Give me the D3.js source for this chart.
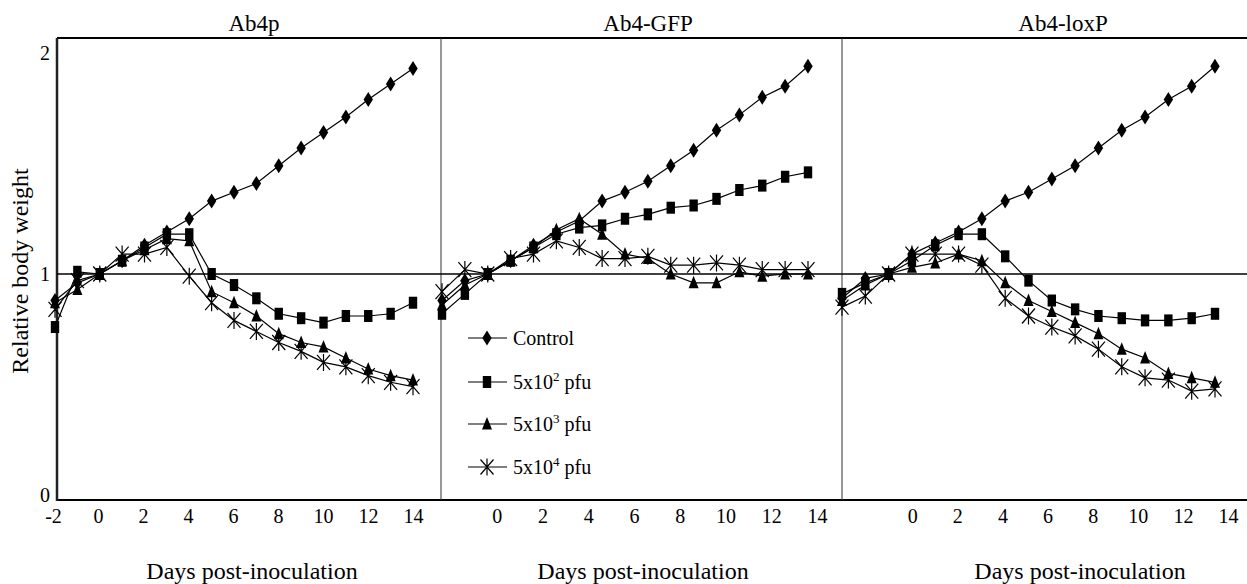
<!DOCTYPE html>
<html>
<head>
<meta charset="utf-8">
<script src="https://cdn.jsdelivr.net/npm/d3@7"></script>
<style>
  body { margin: 0; background: #fff; }
  svg text { font-family: "Liberation Serif", "Times New Roman", serif; fill: #000; }
</style>
</head>
<body>
<div id="chart"></div>
<script>
const days = [-2, -1, 0, 1, 2, 3, 4, 5, 6, 7, 8, 9, 10, 11, 12, 13, 14];
const tickDaysFirst = [-2, 0, 2, 4, 6, 8, 10, 12, 14];
const tickDaysOther = [0, 2, 4, 6, 8, 10, 12, 14];
const yTicks = [0, 1, 2];
const panelTitles = ["Ab4p", "Ab4-GFP", "Ab4-loxP"];
const seriesNames = ["Control", "5x10|2| pfu", "5x10|3| pfu", "5x10|4| pfu"];

// Ab4p
const ab4pControl = [0.88, 0.96, 1.00, 1.06, 1.13, 1.19, 1.25, 1.33, 1.37, 1.41, 1.49, 1.57, 1.64, 1.71, 1.79, 1.86, 1.93];
const ab4p5e2 = [0.76, 1.01, 1.00, 1.06, 1.12, 1.18, 1.18, 1.00, 0.95, 0.89, 0.82, 0.80, 0.78, 0.81, 0.81, 0.82, 0.87];
const ab4p5e3 = [0.87, 0.93, 1.00, 1.06, 1.11, 1.16, 1.15, 0.92, 0.87, 0.81, 0.73, 0.69, 0.67, 0.62, 0.57, 0.54, 0.52];
const ab4p5e4 = [0.84, 0.97, 1.00, 1.09, 1.09, 1.12, 0.99, 0.87, 0.79, 0.74, 0.69, 0.65, 0.60, 0.58, 0.54, 0.51, 0.49];
// Ab4-GFP
const gfpControl = [0.88, 0.97, 1.00, 1.06, 1.13, 1.19, 1.24, 1.33, 1.37, 1.42, 1.49, 1.56, 1.65, 1.72, 1.80, 1.85, 1.94];
const gfp5e2 = [0.82, 0.91, 1.00, 1.06, 1.12, 1.18, 1.21, 1.22, 1.25, 1.27, 1.30, 1.31, 1.34, 1.38, 1.40, 1.44, 1.46];
const gfp5e3 = [0.86, 0.95, 1.00, 1.06, 1.12, 1.20, 1.25, 1.18, 1.09, 1.07, 1.00, 0.96, 0.96, 1.01, 0.99, 1.00, 1.00];
const gfp5e4 = [0.92, 1.02, 1.00, 1.07, 1.09, 1.15, 1.12, 1.07, 1.07, 1.08, 1.04, 1.04, 1.05, 1.04, 1.02, 1.02, 1.02];
// Ab4-loxP
const loxControl = [0.89, 0.98, 1.00, 1.09, 1.14, 1.19, 1.25, 1.33, 1.37, 1.43, 1.49, 1.57, 1.65, 1.71, 1.79, 1.85, 1.94];
const lox5e2 = [0.91, 0.96, 1.00, 1.06, 1.13, 1.18, 1.18, 1.08, 0.97, 0.88, 0.84, 0.81, 0.80, 0.79, 0.79, 0.80, 0.82];
const lox5e3 = [0.88, 0.95, 1.00, 1.03, 1.05, 1.09, 1.06, 0.96, 0.88, 0.83, 0.78, 0.73, 0.66, 0.62, 0.55, 0.53, 0.51];
const lox5e4 = [0.85, 0.90, 1.00, 1.09, 1.09, 1.09, 1.04, 0.89, 0.81, 0.76, 0.72, 0.66, 0.58, 0.53, 0.52, 0.47, 0.48];

const W = 1247, H = 584;
const frame = { left: 57, top: 38, bottom: 500, right: 1247 };
const dividers = [441, 842];

const panels = [
  { title: panelTitles[0], series: [ab4pControl, ab4p5e2, ab4p5e3, ab4p5e4], dataRange: [55, 413], tickRange: [53, 413], ticks: tickDaysFirst, titleX: 254, labelX: 252 },
  { title: panelTitles[1], series: [gfpControl, gfp5e2, gfp5e3, gfp5e4], dataRange: [442, 808], tickRange: [451, 817], ticks: tickDaysOther, titleX: 648, labelX: 643 },
  { title: panelTitles[2], series: [loxControl, lox5e2, lox5e3, lox5e4], dataRange: [842, 1215], tickRange: [867, 1228], ticks: tickDaysOther, titleX: 1063, labelX: 1080 }
];

const y = d3.scaleLinear().domain([0, 2]).range([495, 53]);

const svg = d3.select('#chart').append('svg')
    .attr('width', W)
    .attr('height', H);

// marker shapes
const markers = [
  g => g.append('path').attr('d', 'M0,-7.5L4.7,0L0,7.5L-4.7,0Z').attr('fill', '#000'),
  g => g.append('rect').attr('x', -4.2).attr('y', -6).attr('width', 8.4).attr('height', 12).attr('fill', '#000'),
  g => g.append('path').attr('d', 'M0,-7L5,5.5L-5,5.5Z').attr('fill', '#000'),
  g => g.append('path').attr('d', 'M0,-8.5V8.5M-6.5,-7.5L6.5,7.5M-6.5,7.5L6.5,-7.5').attr('fill', 'none').attr('stroke', '#000').attr('stroke-width', 1.2)
];

// frame
svg.append('line').attr('x1', frame.left).attr('x2', frame.right).attr('y1', frame.top).attr('y2', frame.top)
    .attr('stroke', '#000').attr('stroke-width', 2);
svg.append('line').attr('x1', frame.left).attr('x2', frame.right).attr('y1', frame.bottom).attr('y2', frame.bottom)
    .attr('stroke', '#000').attr('stroke-width', 2);
svg.append('line').attr('x1', frame.left).attr('x2', frame.left).attr('y1', frame.top).attr('y2', frame.bottom + 1)
    .attr('stroke', '#222').attr('stroke-width', 2.5);
dividers.forEach(xd => {
  svg.append('line').attr('x1', xd).attr('x2', xd).attr('y1', frame.top).attr('y2', frame.bottom)
      .attr('stroke', '#333').attr('stroke-width', 1);
});
svg.append('line').attr('x1', frame.left).attr('x2', frame.right).attr('y1', y(1)).attr('y2', y(1))
    .attr('stroke', '#000').attr('stroke-width', 1.5);

// y axis labels
svg.selectAll('text.ytick')
    .data(yTicks)
    .join('text')
    .attr('class', 'ytick')
    .attr('x', 50)
    .attr('y', d => y(d))
    .attr('dy', '0.35em')
    .attr('text-anchor', 'end')
    .style('font-size', '20px')
    .text(d => d);

svg.append('text')
    .attr('transform', 'translate(28,271) rotate(-90)')
    .attr('text-anchor', 'middle')
    .style('font-size', '24px')
    .text('Relative body weight');

panels.forEach(p => {
  const x = d3.scaleLinear().domain([-2, 14]).range(p.dataRange);
  const xt = d3.scaleLinear().domain([-2, 14]).range(p.tickRange);

  svg.append('text')
      .attr('x', p.titleX).attr('y', 31)
      .attr('text-anchor', 'middle')
      .style('font-size', '23px')
      .text(p.title);

  svg.append('text')
      .attr('x', p.labelX).attr('y', 579)
      .attr('text-anchor', 'middle')
      .style('font-size', '24px')
      .text('Days post-inoculation');

  const axis = svg.append('g')
      .attr('transform', 'translate(0,' + frame.bottom + ')')
      .call(d3.axisBottom(xt).tickValues(p.ticks).tickFormat(d => String(d)).tickSize(0).tickPadding(9));
  axis.select('.domain').remove();
  axis.selectAll('text')
      .style('font-size', '20px')
      .style('font-family', '"Liberation Serif", "Times New Roman", serif')
      .attr('fill', '#000');

  const line = d3.line()
      .x((d, i) => x(days[i]))
      .y(d => y(d));

  p.series.forEach((vals, si) => {
    svg.append('path')
        .datum(vals)
        .attr('d', line)
        .attr('fill', 'none')
        .attr('stroke', '#000')
        .attr('stroke-width', 1.2);

    svg.append('g').selectAll('g')
        .data(vals)
        .join('g')
        .attr('transform', (d, i) => 'translate(' + x(days[i]) + ',' + y(d) + ')')
        .each(function () { markers[si](d3.select(this)); });
  });
});

// legend
const legendY = [338, 382, 424, 467];
seriesNames.forEach((name, i) => {
  const g = svg.append('g').attr('transform', 'translate(0,' + legendY[i] + ')');
  g.append('line').attr('x1', 468).attr('x2', 507).attr('y1', 0).attr('y2', 0)
      .attr('stroke', '#000').attr('stroke-width', 1.2);
  const m = g.append('g').attr('transform', 'translate(487,0)');
  markers[i](m);
  const parts = name.split('|');
  const t = g.append('text').attr('x', 513).attr('y', 7).style('font-size', '20px');
  t.append('tspan').text(parts[0]);
  if (parts.length > 1) {
    t.append('tspan').attr('dy', -8).style('font-size', '13px').text(parts[1]);
    t.append('tspan').attr('dy', 8).text(parts[2]);
  }
});
</script>
</body>
</html>
